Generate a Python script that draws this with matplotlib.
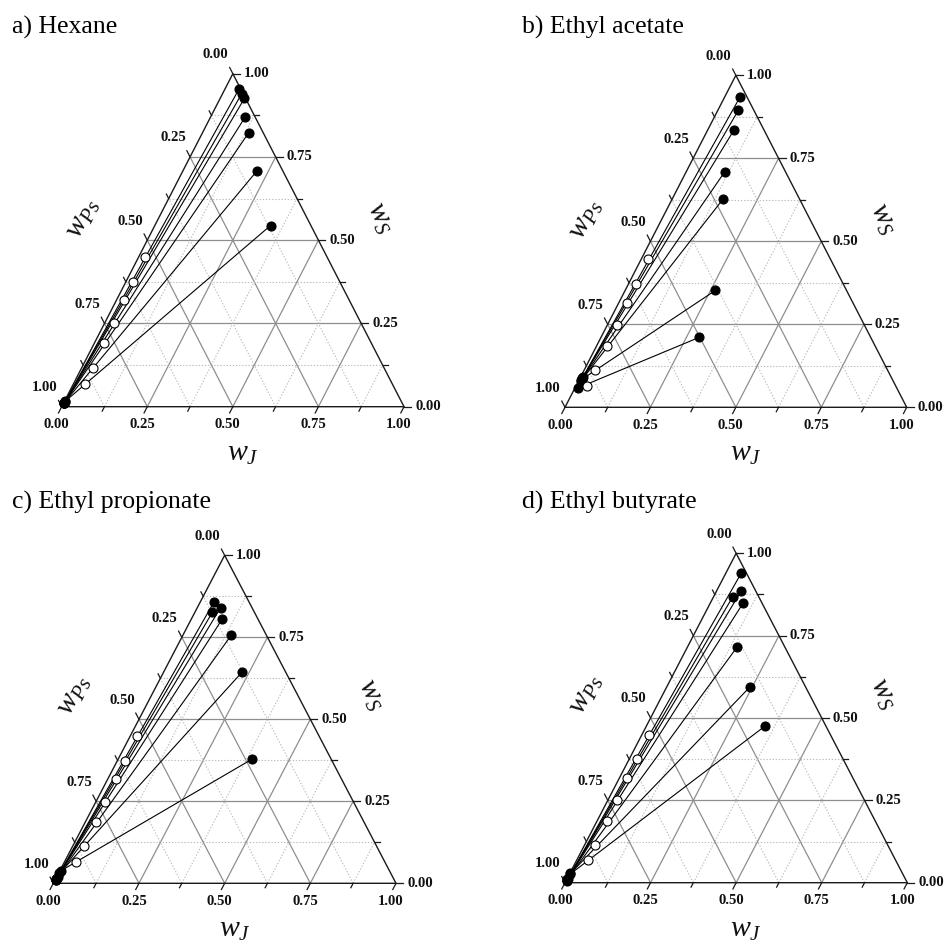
import numpy as np
import matplotlib
matplotlib.use('Agg')
import matplotlib.pyplot as plt
from matplotlib.transforms import offset_copy

plt.rcParams['font.family'] = ['Liberation Serif', 'DejaVu Serif']
plt.rcParams['mathtext.fontset'] = 'custom'
plt.rcParams['mathtext.it'] = 'Liberation Serif:italic'
plt.rcParams['mathtext.rm'] = 'Liberation Serif'

# ---------------- data (mass fractions wJ, wS; wPs = 1 - wJ - wS) ----------------
titles = ['a) Hexane', 'b) Ethyl acetate', 'c) Ethyl propionate', 'd) Ethyl butyrate']

# a) Hexane
hex_top_J = [0.041, 0.056, 0.071, 0.101, 0.135, 0.216, 0.338]
hex_top_S = [0.953, 0.939, 0.926, 0.869, 0.823, 0.707, 0.544]
hex_bot_J = [0.002, 0.002, 0.002, 0.002, 0.002, 0.002, 0.002]
hex_bot_S = [0.010, 0.010, 0.010, 0.011, 0.012, 0.014, 0.016]
hex_feed_J = [0.020, 0.022, 0.023, 0.026, 0.029, 0.033, 0.035]
hex_feed_S = [0.449, 0.375, 0.320, 0.252, 0.190, 0.116, 0.068]

# b) Ethyl acetate
ea_top_J = [0.045, 0.060, 0.077, 0.113, 0.149, 0.264, 0.288]
ea_top_S = [0.935, 0.895, 0.836, 0.710, 0.627, 0.352, 0.211]
ea_bot_J = [0.007, 0.007, 0.007, 0.007, 0.007, 0.008, 0.008]
ea_bot_S = [0.090, 0.088, 0.085, 0.082, 0.080, 0.085, 0.058]
ea_feed_J = [0.020, 0.022, 0.024, 0.027, 0.030, 0.033, 0.033]
ea_feed_S = [0.448, 0.371, 0.315, 0.248, 0.185, 0.112, 0.064]

# c) Ethyl propionate
ep_top_J = [0.040, 0.051, 0.068, 0.090, 0.141, 0.229, 0.390]
ep_top_S = [0.859, 0.826, 0.840, 0.805, 0.756, 0.644, 0.378]
ep_bot_J = [0.002, 0.002, 0.002, 0.002, 0.003, 0.003, 0.003]
ep_bot_S = [0.010, 0.010, 0.012, 0.014, 0.020, 0.030, 0.038]
ep_feed_J = [0.019, 0.021, 0.025, 0.027, 0.030, 0.033, 0.034]
ep_feed_S = [0.449, 0.374, 0.317, 0.249, 0.187, 0.115, 0.066]

# d) Ethyl butyrate
eb_top_J = [0.045, 0.056, 0.072, 0.096, 0.145, 0.243, 0.347]
eb_top_S = [0.941, 0.867, 0.887, 0.850, 0.715, 0.594, 0.476]
eb_bot_J = [0.002, 0.002, 0.002, 0.002, 0.002, 0.002, 0.002]
eb_bot_S = [0.006, 0.008, 0.008, 0.010, 0.012, 0.028, 0.026]
eb_feed_J = [0.022, 0.022, 0.024, 0.026, 0.029, 0.031, 0.032]
eb_feed_S = [0.448, 0.375, 0.317, 0.250, 0.187, 0.115, 0.068]

datasets = [
    (hex_top_J, hex_top_S, hex_bot_J, hex_bot_S, hex_feed_J, hex_feed_S),
    (ea_top_J, ea_top_S, ea_bot_J, ea_bot_S, ea_feed_J, ea_feed_S),
    (ep_top_J, ep_top_S, ep_bot_J, ep_bot_S, ep_feed_J, ep_feed_S),
    (eb_top_J, eb_top_S, eb_bot_J, eb_bot_S, eb_feed_J, eb_feed_S),
]

tick_vals = [0.0, 0.125, 0.25, 0.375, 0.5, 0.625, 0.75, 0.875, 1.0]
major_vals = [0.0, 0.25, 0.5, 0.75, 1.0]
tick_labels = ['0.00', '0.25', '0.50', '0.75', '1.00']

# ---------------- layout (pixels) ----------------
FW, FH = 946, 949
boxes = [(61.7, 406.7, 342.3, 333.0),
         (565.0, 407.3, 341.7, 332.0),
         (53.3, 883.3, 342.7, 328.0),
         (565.0, 882.7, 342.3, 329.4)]
title_pos = [(12, 34), (522, 34), (12, 509), (522, 509)]

fig = plt.figure(figsize=(FW / 100, FH / 100), dpi=100)


def tern(J, S):
    J = np.asarray(J, float)
    S = np.asarray(S, float)
    return J + S / 2.0, S


GRID_MAJ = '#8e8e8e'
GRID_MIN = '#bcbcbc'
EDGE = '#1a1a1a'

for k, (x0, y0, W, H) in enumerate(boxes):
    ax = fig.add_axes([x0 / FW, 1 - y0 / FH, W / FW, H / FH])
    ax.set_xlim(0, 1)
    ax.set_ylim(0, 1)
    ax.axis('off')

    # grid lines
    for v in tick_vals[1:-1]:
        major = v in major_vals
        kw = dict(color=GRID_MAJ if major else GRID_MIN,
                  lw=0.9 if major else 0.8,
                  ls='-' if major else (0, (1.2, 1.6)),
                  zorder=1, clip_on=False)
        # constant S
        xa, ya = tern(0, v)
        xb, yb = tern(1 - v, v)
        ax.plot([xa, xb], [ya, yb], **kw)
        # constant J
        xa, ya = tern(v, 0)
        xb, yb = tern(v, 1 - v)
        ax.plot([xa, xb], [ya, yb], **kw)
        # constant Ps
        xa, ya = tern(1 - v, 0)
        xb, yb = tern(0, 1 - v)
        ax.plot([xa, xb], [ya, yb], **kw)

    # triangle edges
    ex, ey = tern([0, 1, 0, 0], [0, 0, 1, 0])
    ax.plot(ex, ey, color=EDGE, lw=1.0, zorder=2, clip_on=False)

    # tick directions (pixel, y up)
    nb = np.hypot(0.5 * W, H)
    vb = (-0.5 * W / nb, -H / nb)    # bottom axis ticks: down-left
    vl = (-0.5 * W / nb, H / nb)     # left axis ticks: up-left
    vr = (1.0, 0.0)                  # right axis ticks: right

    for v in tick_vals:
        L = 7.0 if v in major_vals else 5.0
        bx, by = tern(v, 0)
        ax.plot([bx, bx + L * vb[0] / W], [by, by + L * vb[1] / H],
                color=EDGE, lw=0.9, zorder=2, clip_on=False)
        rx, ry = tern(1 - v, v)
        ax.plot([rx, rx + L * vr[0] / W], [ry, ry + L * vr[1] / H],
                color=EDGE, lw=0.9, zorder=2, clip_on=False)
        lx, ly = tern(0, 1 - v)
        ax.plot([lx, lx + L * vl[0] / W], [ly, ly + L * vl[1] / H],
                color=EDGE, lw=0.9, zorder=2, clip_on=False)

    lab_kw = dict(fontsize=10.6, fontweight='bold', color='#111111')
    for v, s in zip(major_vals, tick_labels):
        bx, by = tern(v, 0)
        ax.text(bx, by, s, transform=offset_copy(ax.transData, fig=fig, x=-5, y=-18, units='dots'),
                ha='center', va='center', **lab_kw)
        rx, ry = tern(1 - v, v)
        ax.text(rx, ry, s, transform=offset_copy(ax.transData, fig=fig, x=11, y=0, units='dots'),
                ha='left', va='center', **lab_kw)
        lx, ly = tern(0, 1 - v)
        ax.text(lx, ly, s, transform=offset_copy(ax.transData, fig=fig, x=-17, y=19, units='dots'),
                ha='center', va='center', **lab_kw)

    ang = np.degrees(np.arctan2(H, 0.5 * W))
    ax.text(0.5 + 10 / W, -47 / H, r'$w_J$', fontsize=21.5, ha='center', va='center', color='#111111')
    ax.text(21 / W, 188 / H, r'$w_{Ps}$', fontsize=21.5, ha='center', va='center',
            rotation=ang, rotation_mode='anchor', color='#111111')
    ax.text(318 / W, 188 / H, r'$w_S$', fontsize=21.5, ha='center', va='center',
            rotation=-ang, rotation_mode='anchor', color='#111111')

    # data
    tJ, tS, bJ, bS, fJ, fS = datasets[k]
    tx, ty = tern(tJ, tS)
    bx_, by_ = tern(bJ, bS)
    fx, fy = tern(fJ, fS)
    for i in range(len(tx)):
        ax.plot([tx[i], bx_[i]], [ty[i], by_[i]], color='black', lw=0.8, zorder=3, clip_on=False)
    ax.plot(bx_, by_, 'o', ms=6.5, mfc='black', mec='black', mew=0.8, zorder=4, clip_on=False)
    ax.plot(fx, fy, 'o', ms=6.5, mfc='white', mec='black', mew=0.8, zorder=5, clip_on=False)
    ax.plot(tx, ty, 'o', ms=6.5, mfc='black', mec='black', mew=0.8, zorder=5, clip_on=False)

    fig.text(title_pos[k][0] / FW, 1 - title_pos[k][1] / FH, titles[k],
             fontsize=18.5, ha='left', va='baseline', color='black')

fig.savefig('out.png', dpi=100)
